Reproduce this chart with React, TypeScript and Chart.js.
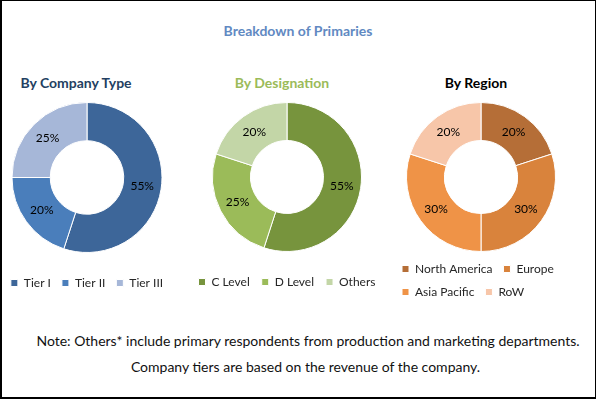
import React, { useEffect, useRef } from "react";
import { Chart, registerables } from "chart.js";

Chart.register(...registerables);

const mainTitle = "Breakdown of Primaries";
const noteLines = [
  "Note: Others* include primary respondents from production and marketing departments.",
  "Company tiers are based on the revenue of the company.",
];

const companyTitle = "By Company Type";
const companyLabels = ["Tier I", "Tier II", "Tier III"];
const companyValues = [55, 20, 25];
const companyColors = ["#3D6699", "#4A7EBB", "#A6B7D8"];

const designationTitle = "By Designation";
const designationLabels = ["C Level", "D Level", "Others"];
const designationValues = [55, 25, 20];
const designationColors = ["#77943D", "#9BBB59", "#C3D6A7"];

const regionTitle = "By Region";
const regionLabels = ["North America", "Europe", "Asia Pacific", "RoW"];
const regionValues = [20, 30, 30, 20];
const regionColors = ["#B56E37", "#D9833C", "#EF9347", "#F7C6A9"];

const FONT = "Lato, 'Open Sans', sans-serif";

const pctLabels = {
  id: "pctLabels",
  afterDatasetsDraw(chart: any) {
    const ctx = chart.ctx;
    const meta = chart.getDatasetMeta(0);
    const data = chart.data.datasets[0].data;
    ctx.save();
    ctx.font = "12px " + FONT;
    ctx.fillStyle = "#000";
    ctx.textAlign = "center";
    ctx.textBaseline = "middle";
    meta.data.forEach((arc: any, i: number) => {
      const p = arc.tooltipPosition();
      ctx.fillText(data[i] + "%", p.x, p.y);
    });
    ctx.restore();
  },
};

type DonutProps = {
  labels: string[];
  values: number[];
  colors: string[];
  left: number;
  top: number;
  width: number;
  height: number;
  align: "start" | "center";
  labelPadding: number;
  spacer: number;
};

function Donut(props: DonutProps) {
  const ref = useRef<HTMLCanvasElement | null>(null);
  useEffect(() => {
    if (!ref.current) return;
    const chart = new Chart(ref.current, {
      type: "doughnut",
      data: {
        labels: props.labels,
        datasets: [
          {
            data: props.values,
            backgroundColor: props.colors,
            borderColor: "#ffffff",
            borderWidth: 1,
            hoverOffset: 0,
          },
        ],
      },
      options: {
        responsive: false,
        animation: false,
        cutout: "49%",
        layout: { padding: 0 },
        plugins: {
          tooltip: { enabled: false },
          legend: {
            position: "bottom",
            align: props.align,
            title: {
              display: props.spacer > 0,
              text: "",
              padding: 0,
              font: { size: props.spacer, lineHeight: 1 },
            },
            labels: {
              boxWidth: 7,
              boxHeight: 7,
              padding: props.labelPadding,
              color: "#262626",
              font: { size: 12, family: FONT },
            },
          },
        },
      },
      plugins: [pctLabels],
    });
    return () => chart.destroy();
  }, []);
  return (
    <canvas
      ref={ref}
      width={props.width}
      height={props.height}
      style={{
        position: "absolute",
        left: props.left,
        top: props.top,
        width: props.width,
        height: props.height,
      }}
    />
  );
}

const textStyle = (x: number, y: number, size: number, color: string, bold: boolean): React.CSSProperties => ({
  position: "absolute",
  left: x - 300,
  width: 600,
  top: y - size * 0.6,
  lineHeight: size * 1.2 + "px",
  fontSize: size,
  fontFamily: FONT,
  fontWeight: bold ? 700 : 400,
  color,
  textAlign: "center",
  whiteSpace: "nowrap",
});

export default function App() {
  return (
    <div
      style={{
        position: "fixed",
        left: 0,
        top: 0,
        width: 596,
        height: 399,
        background: "#ffffff",
        overflow: "hidden",
      }}
    >
      <div style={textStyle(298, 31, 14, "#6189C2", true)}>{mainTitle}</div>
      <div style={textStyle(76, 83, 14, "#243F62", true)}>{companyTitle}</div>
      <div style={textStyle(282, 83, 14, "#9BBB59", true)}>{designationTitle}</div>
      <div style={textStyle(476, 83, 14, "#000000", true)}>{regionTitle}</div>

      <Donut
        labels={companyLabels}
        values={companyValues}
        colors={companyColors}
        left={87 - 95}
        top={102}
        width={190}
        height={197}
        align="center"
        labelPadding={11}
        spacer={13}
      />
      <Donut
        labels={designationLabels}
        values={designationValues}
        colors={designationColors}
        left={286.5 - 120}
        top={102}
        width={240}
        height={196}
        align="center"
        labelPadding={12}
        spacer={12}
      />
      <Donut
        labels={regionLabels}
        values={regionValues}
        colors={regionColors}
        left={390.5}
        top={102}
        width={180}
        height={206}
        align="start"
        labelPadding={11}
        spacer={0}
      />

      <div style={textStyle(308, 341, 14, "#111111", false)}>{noteLines[0]}</div>
      <div style={textStyle(305.5, 367, 14, "#111111", false)}>{noteLines[1]}</div>

      <div
        style={{
          position: "absolute",
          left: 0,
          top: 0,
          width: 596,
          height: 399,
          boxSizing: "border-box",
          borderTop: "1px solid #000",
          borderRight: "1px solid #000",
          borderLeft: "2px solid #000",
          borderBottom: "2px solid #000",
          pointerEvents: "none",
        }}
      />
    </div>
  );
}
